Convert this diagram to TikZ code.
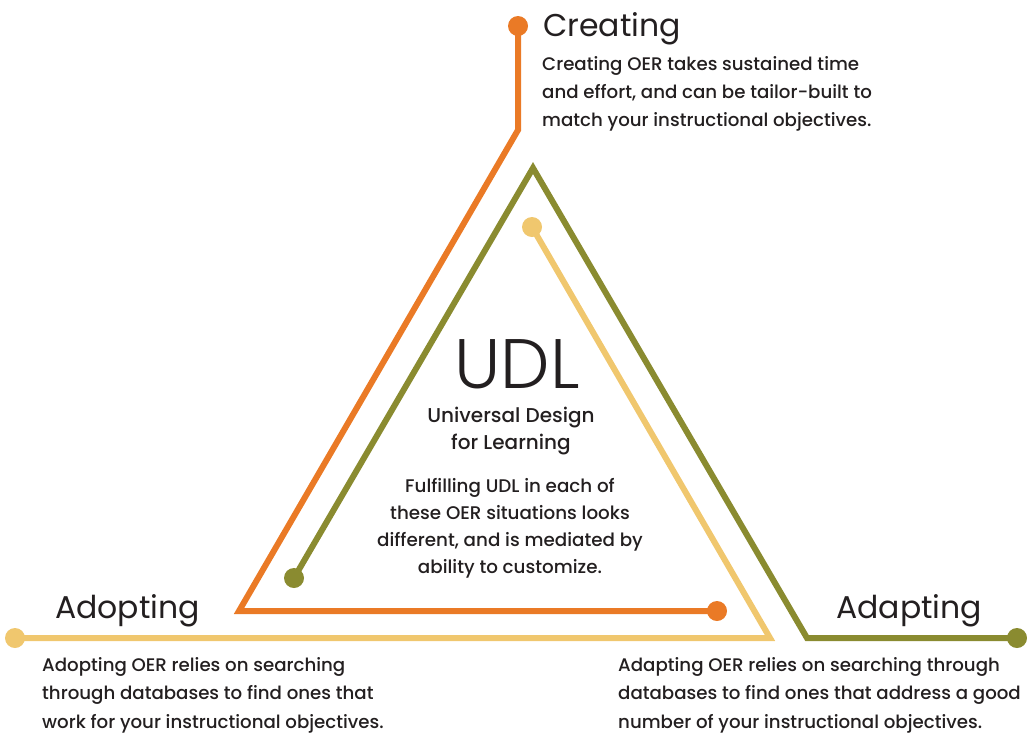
\documentclass[tikz,border=0pt]{standalone}
\usepackage{fontspec}
\setmainfont{Poppins}
\newfontfamily\medfont{Poppins Medium}
\newfontfamily\lightfont{Poppins Light}
\usetikzlibrary{positioning}

\definecolor{oerorange}{RGB}{234,122,38}
\definecolor{oerolive}{RGB}{138,139,48}
\definecolor{oeryellow}{RGB}{240,199,110}
\definecolor{oertext}{RGB}{35,31,32}

\tikzset{
  track/.style={draw=#1, line width=6pt},
  endpt/.style={circle, fill=#1, inner sep=0pt, minimum size=20pt},
  heading/.style={font=\fontsize{31.5}{31.5}\selectfont, text=oertext, inner sep=0pt, anchor=base west},
  blurb/.style={font=\medfont\fontsize{18.2}{28}\selectfont, text=oertext, inner sep=0pt, align=left, anchor=north west},
  centre/.style={font=\medfont\fontsize{18.3}{27}\selectfont, text=oertext, inner sep=0pt, align=center, anchor=north},
}

\begin{document}
\begin{tikzpicture}[x=1pt,y=-1pt]
  \useasboundingbox (0,0) rectangle (1027,737);

  % creating: orange
  \node[endpt=oerorange] (cre) at (518,26) {};
  \coordinate (cre bend) at (518,130);
  \coordinate (cre corner) at (239,611);
  \node[endpt=oerorange] (cre end) at (717,611) {};
  \draw[track=oerorange] (cre.center) -- (cre bend) -- (cre corner) -- (cre end.center);

  % adapting: olive
  \node[endpt=oerolive] (ada) at (294,578) {};
  \coordinate (ada apex) at (533,168);
  \coordinate (ada corner) at (807,638);
  \node[endpt=oerolive] (ada end) at (1017,638) {};
  \draw[track=oerolive] (ada.center) -- (ada apex) -- (ada corner) -- (ada end.center);

  % adopting: yellow
  \node[endpt=oeryellow] (ado) at (532,227) {};
  \coordinate (ado corner) at (770,638);
  \node[endpt=oeryellow] (ado end) at (15,638) {};
  \draw[track=oeryellow] (ado.center) -- (ado corner) -- (ado end.center);

  % headings
  \node[heading] (creating) at (543,36) {Creating};
  \node[heading] (adopting) at (55,618) {Adopting};
  \node[heading] (adapting) at (836,618) {Adapting};

  \node[blurb] (creating text) at (542,56)
    {Creating OER takes sustained time\\and effort, and can be tailor-built to\\match your instructional objectives.};
  \node[blurb, font=\medfont\fontsize{18.2}{28.5}\selectfont] (adopting text) at (42,657)
    {Adopting OER relies on searching\\through databases to find ones that\\work for your instructional objectives.};
  \node[blurb, font=\medfont\fontsize{18.2}{28.5}\selectfont] (adapting text) at (618,657)
    {Adapting OER relies on searching through\\databases to find ones that address a good\\number of your instructional objectives.};

  % middle
  \node[font=\lightfont\fontsize{70}{70}\selectfont, text=oertext, inner sep=0pt, anchor=base] (udl) at (517,388) {UDL};
  \node[centre, font=\medfont\fontsize{20}{27}\selectfont] (udl name) at (511,407) {Universal Design\\for Learning};
  \node[centre] (udl note) at (510,478)
    {Fulfilling UDL in each of\\these OER situations looks\\different, and is mediated by\\ability to customize.};
\end{tikzpicture}
\end{document}
